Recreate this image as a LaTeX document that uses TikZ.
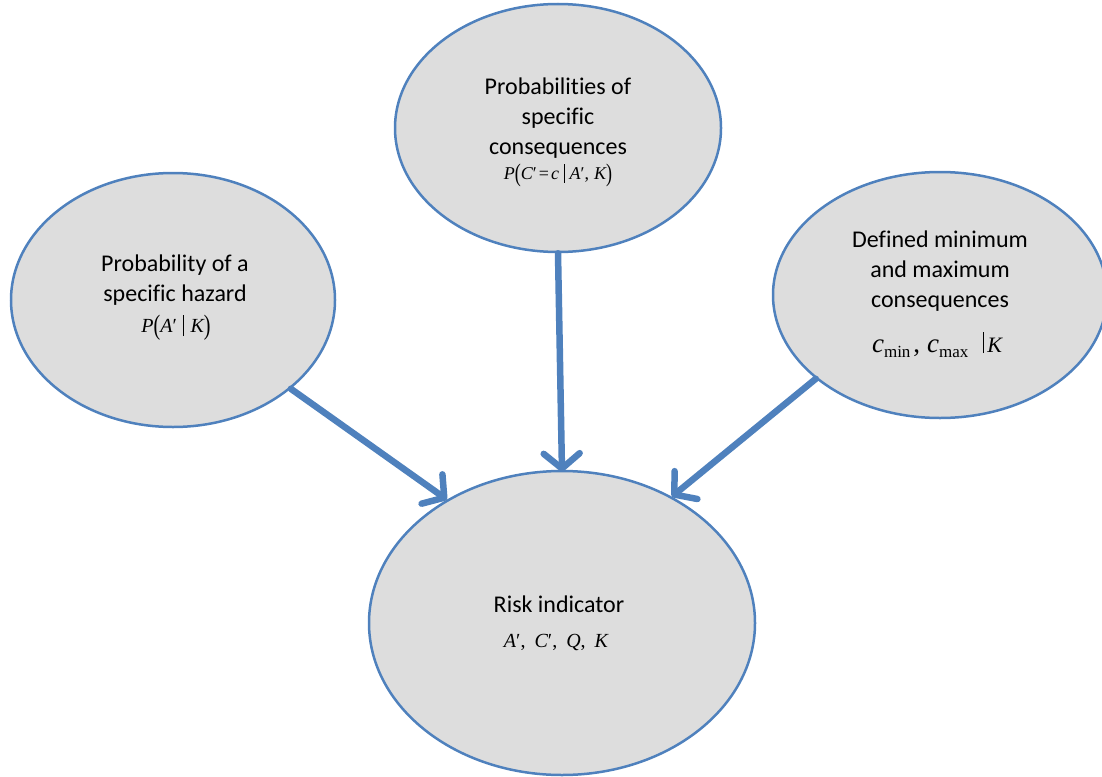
\documentclass[tikz,border=0pt]{standalone}
\usepackage{fontspec}
\setmainfont{Carlito}[Ligatures=NoCommon]
\newfontfamily\tms{Liberation Serif}
\usetikzlibrary{shapes.geometric,arrows.meta}
\definecolor{edgeblue}{RGB}{79,129,189}
\definecolor{bubblegray}{RGB}{221,221,221}
% italic letter, prime, bar and tall parentheses for the formulas
\newcommand\mv[1]{{\tms\itshape #1}}
\newcommand\prm{{\tms ′}}
\newcommand\tallpar[1]{\raisebox{-0.14em}{\scalebox{1}[1.4]{\tms #1}}}
\newcommand\condbar{\raisebox{-0.2em}{\rule{0.6pt}{1.05em}}}
\newcommand\subtxt[1]{\raisebox{-5pt}{\fontsize{17}{18}\selectfont\tms #1}}
\tikzset{
  bubble/.style={ellipse, draw=edgeblue, line width=2.5pt, fill=bubblegray, inner sep=0pt},
  link/.style={draw=edgeblue, line width=6.5pt, line cap=round,
    -{Straight Barb[length=15pt,width=36pt,round]}},
  txt/.style={align=center, inner sep=0pt, font=\fontsize{24}{30}\selectfont},
  formula/.style={inner sep=0pt, anchor=base}
}
\begin{document}
\begin{tikzpicture}[x=1pt,y=-1pt]
\useasboundingbox (0,0) rectangle (1102,776);

% the four bubbles
\node[bubble, minimum width=326pt, minimum height=248pt] (T) at (558,128) {};
\node[bubble, minimum width=324pt, minimum height=254pt] (L) at (173,300) {};
\node[bubble, minimum width=334pt, minimum height=246pt] (R) at (940,295) {};
\node[bubble, minimum width=386pt, minimum height=304pt] (B) at (562,623) {};

% texts
\node[txt] (Ttxt) at (558,118) {Probabilities of\\specific\\consequences};
\node[formula, font=\fontsize{18}{20}\selectfont] (Tf) at (558,179)
  {\mv{P}\tallpar{(}\mv{C}\prm\hspace{2pt}{\tms=}\hspace{2pt}\mv{c}\hspace{5pt}\condbar\hspace{5pt}\mv{A}\prm{\tms,}\hspace{5pt}\mv{K}\tallpar{)}};

\node[txt] (Ltxt) at (175,280) {Probability of a\\specific hazard};
\node[formula, font=\fontsize{20}{22}\selectfont] (Lf) at (176,332)
  {\mv{P}\tallpar{(}\mv{A}\prm\hspace{6pt}\condbar\hspace{7pt}\mv{K}\tallpar{)}};

\node[txt] (Rtxt) at (940,271) {Defined minimum\\and maximum\\consequences};
\node[formula, font=\fontsize{27}{28}\selectfont] (Rf) at (937,352)
  {\mv{c}\subtxt{min}\hspace{3pt}{\tms,}\hspace{7pt}\mv{c}\subtxt{max}\hspace{15pt}\rule[-1pt]{0.8pt}{21pt}\hspace{3pt}{\fontsize{22}{24}\selectfont\mv{K}}};

\node[txt] (Btxt) at (559,604) {Risk indicator};
\node[formula, font=\fontsize{20}{22}\selectfont] (Bf) at (556,647)
  {\mv{A}\prm{\tms,}\hspace{9pt}\mv{C}\prm{\tms,}\hspace{9pt}\mv{Q}{\tms,}\hspace{9pt}\mv{K}};

% arrows into the risk indicator
\draw[link] (L.-37) -- (B.133);
\draw[link] (T.south) -- ([yshift=-2pt]B.north);
\draw[link] (R.214) -- (B.49);
\end{tikzpicture}
\end{document}
